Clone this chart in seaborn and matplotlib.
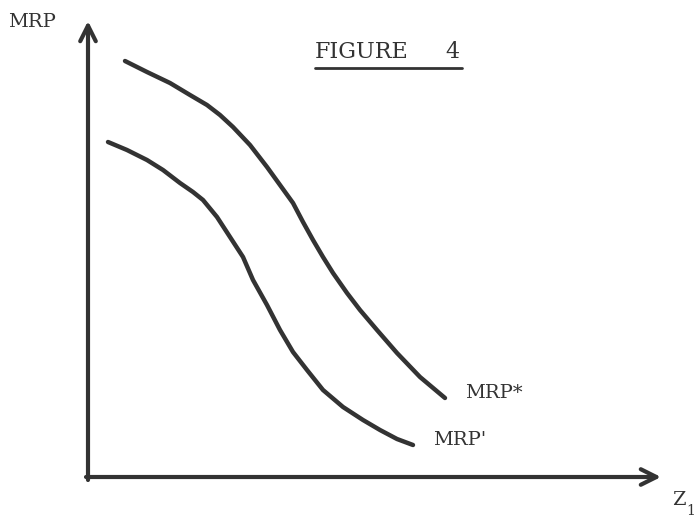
import seaborn as sns
import matplotlib.pyplot as plt
import numpy as np
import pandas as pd

upper_x = [37, 59, 82, 102, 119, 132, 145, 162, 179, 192, 205, 215, 225,
           235, 245, 259, 272, 289, 309, 332, 357]
upper_y = [416, 405, 394, 382, 372, 362, 350, 332, 310, 292, 274, 255, 237,
           220, 204, 184, 167, 147, 124, 100, 79]
lower_x = [20, 39, 59, 75, 92, 105, 115, 129, 142, 155, 165, 179, 192,
           205, 219, 235, 255, 275, 292, 309, 325]
lower_y = [335, 327, 317, 307, 294, 285, 277, 260, 240, 220, 197, 172, 147,
           125, 107, 87, 70, 57, 47, 38, 32]

curves = pd.concat([
    pd.DataFrame({'z': upper_x, 'mrp': upper_y, 'curve': 'MRP*'}),
    pd.DataFrame({'z': lower_x, 'mrp': lower_y, 'curve': "MRP'"}),
])

sns.set_style('white')
# typewriter look: a slab-ish serif is the closest installed face
plt.rcParams['font.family'] = ['DejaVu Serif']

fig = plt.figure(figsize=(6.95, 5.17), dpi=100)
ax = fig.add_axes([0, 0, 1, 1])
ax.set_xlim(-88, 607)
ax.set_ylim(-40, 477)
ax.axis('off')

ink = '#333333'

# the two curves
sns.lineplot(data=curves, x='z', y='mrp', units='curve', estimator=None,
             sort=False, color=ink, linewidth=3.2, ax=ax, legend=False,
             solid_capstyle='round', solid_joinstyle='round')

# axes drawn as arrows
ax.annotate('', xy=(0, 456), xytext=(0, -3),
            arrowprops=dict(arrowstyle='->', color=ink, lw=3,
                            mutation_scale=28, shrinkA=0, shrinkB=0))
ax.annotate('', xy=(573, 0), xytext=(-2, 0),
            arrowprops=dict(arrowstyle='->', color=ink, lw=3,
                            mutation_scale=28, shrinkA=0, shrinkB=0))

# labels
ax.text(-80, 455, 'MRP', fontsize=14, va='center', ha='left', color=ink)
ax.text(227, 425, 'FIGURE', fontsize=16, va='center', ha='left', color=ink)
ax.text(372, 425, '4', fontsize=16, va='center', ha='right', color=ink)
ax.plot([227, 374], [409, 409], color=ink, lw=2)
ax.text(377, 84, 'MRP*', fontsize=14, va='center', ha='left', color=ink)
ax.text(345, 37, "MRP'", fontsize=14, va='center', ha='left', color=ink)
ax.text(584, -23, 'Z', fontsize=14, va='center', ha='left', color=ink)
ax.text(598, -34, '1', fontsize=10, va='center', ha='left', color=ink)

plt.savefig('out.png', dpi=100)
